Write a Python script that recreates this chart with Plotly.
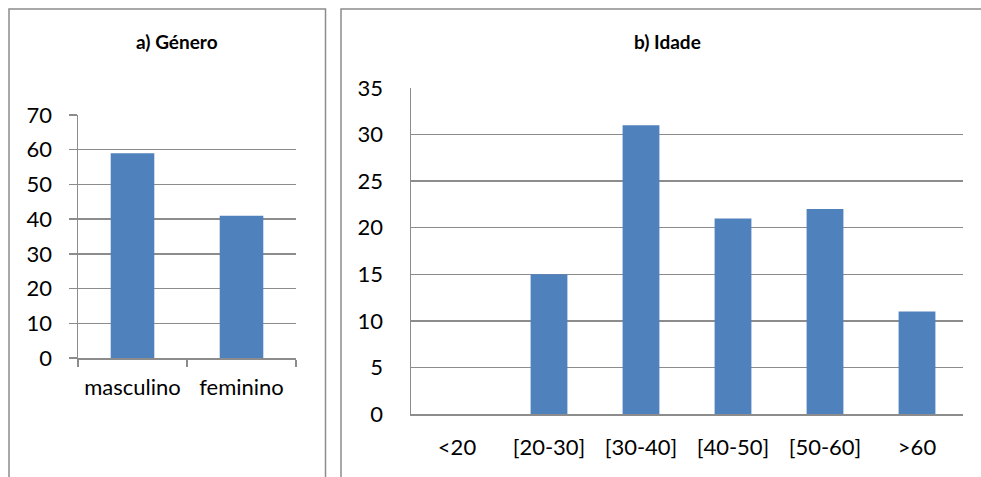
import plotly.graph_objects as go

# Data
genero_cats = ["masculino", "feminino"]
genero_vals = [59, 41]
idade_cats = ["<20", "[20-30]", "[30-40]", "[40-50]", "[50-60]", ">60"]
idade_vals = [0, 15, 31, 21, 22, 11]

W, H = 981, 477
BAR = "#4F81BD"
GRID = "#8C8C8C"
FONT = "Lato"
FS = 22

def px_x(v):
    return v / W

def px_y(v):
    return (H - v) / H

fig = go.Figure()
fig.add_trace(go.Bar(x=genero_cats, y=genero_vals, marker=dict(color=BAR, line=dict(width=0)),
                     width=0.4, xaxis="x", yaxis="y", showlegend=False, hoverinfo="skip"))
fig.add_trace(go.Bar(x=idade_cats, y=idade_vals, marker=dict(color=BAR, line=dict(width=0)),
                     width=0.4, xaxis="x2", yaxis="y2", showlegend=False, hoverinfo="skip"))

fig.update_layout(
    width=W, height=H, margin=dict(l=0, r=0, t=0, b=0, autoexpand=False),
    paper_bgcolor="white", plot_bgcolor="white",
    font=dict(family=FONT, size=FS, color="black"),
    xaxis=dict(domain=[px_x(78), px_x(296)], anchor="y", type="category", automargin=False,
               showline=True, linecolor=GRID, linewidth=1.5, tickangle=0,
               ticks="outside", ticklen=7, tickcolor=GRID, tickwidth=1.5,
               tickson="boundaries", showgrid=False, ticklabelstandoff=9,
               tickfont=dict(size=FS)),
    yaxis=dict(domain=[px_y(358), px_y(115)], anchor="x", range=[0, 70], dtick=10, automargin=False,
               showline=True, linecolor=GRID, linewidth=1.5,
               ticks="outside", ticklen=8, tickcolor=GRID, tickwidth=1.5,
               showgrid=True, gridcolor=GRID, gridwidth=1.5, zeroline=False,
               ticklabelstandoff=12, tickfont=dict(size=FS)),
    xaxis2=dict(domain=[px_x(411), px_x(963)], anchor="y2", type="category", automargin=False,
                showline=True, linecolor=GRID, linewidth=1.5, ticks="", tickangle=0,
                showgrid=False, ticklabelstandoff=13, tickfont=dict(size=FS)),
    yaxis2=dict(domain=[px_y(414), px_y(88)], anchor="x2", range=[0, 35], dtick=5, automargin=False,
                showline=True, linecolor=GRID, linewidth=1.5, ticks="",
                showgrid=True, gridcolor=GRID, gridwidth=1.5, zeroline=False,
                ticklabelstandoff=22, tickfont=dict(size=FS)),
    shapes=[
        dict(type="rect", xref="paper", yref="paper", x0=px_x(9), x1=px_x(325.5),
             y0=-0.1, y1=px_y(9), line=dict(color="#8C8C8C", width=1.5), layer="below"),
        dict(type="rect", xref="paper", yref="paper", x0=px_x(341), x1=1.1,
             y0=-0.1, y1=px_y(9), line=dict(color="#8C8C8C", width=1.5), layer="below"),
    ],
    annotations=[
        dict(text="<b>a) Género</b>", xref="paper", yref="paper", x=px_x(177), y=px_y(42),
             showarrow=False, font=dict(family=FONT, size=19), xanchor="center", yanchor="middle"),
        dict(text="<b>b) Idade</b>", xref="paper", yref="paper", x=px_x(667), y=px_y(42),
             showarrow=False, font=dict(family=FONT, size=19), xanchor="center", yanchor="middle"),
    ],
)

fig.write_html("out.html", config={"displayModeBar": False, "staticPlot": True},
               post_script="document.body.style.margin='0';document.body.style.overflow='hidden';")
